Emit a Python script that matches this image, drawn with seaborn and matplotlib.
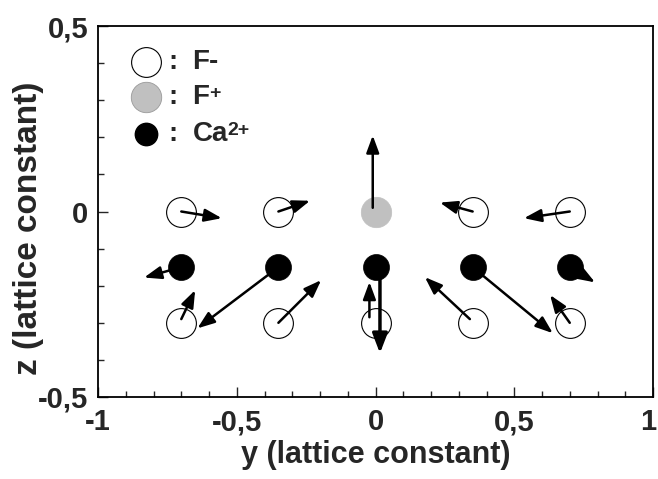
import matplotlib
matplotlib.use("Agg")
import matplotlib.pyplot as plt
import matplotlib.transforms as mtransforms
import seaborn as sns
import pandas as pd
from matplotlib.ticker import FixedLocator, MultipleLocator, FuncFormatter

# ---------------- data ----------------
f_minus_y = [-0.7, -0.35, 0.35, 0.7, -0.7, -0.35, 0.0, 0.35, 0.7]
f_minus_z = [0.0, 0.0, 0.0, 0.0, -0.3, -0.3, -0.3, -0.3, -0.3]
f_plus_y = [0.0]
f_plus_z = [0.0]
ca_y = [-0.7, -0.35, 0.0, 0.35, 0.7]
ca_z = [-0.15, -0.15, -0.15, -0.15, -0.15]

# displacement arrows (start -> end), in lattice constants
arr_y0 = [-0.70, -0.35, -0.01, 0.35, 0.70, -0.70, -0.35, 0.016, 0.35, 0.70, -0.70, -0.35, -0.022, 0.34, 0.70]
arr_z0 = [0.00, 0.00, 0.01, 0.00, 0.00, -0.15, -0.15, -0.15, -0.15, -0.15, -0.29, -0.30, -0.285, -0.29, -0.30]
arr_y1 = [-0.554, -0.236, -0.01, 0.232, 0.535, -0.834, -0.642, 0.016, 0.639, 0.791, -0.650, -0.196, -0.022, 0.178, 0.629]
arr_z1 = [-0.018, 0.029, 0.205, 0.024, -0.018, -0.178, -0.315, -0.382, -0.328, -0.191, -0.212, -0.185, -0.19, -0.177, -0.225]
arr_thick = [False] * 7 + [True] + [False] * 7

x_ticks = [-1, -0.5, 0, 0.5, 1]
y_ticks = [-0.5, 0, 0.5]

legend_labels = ["F-", "F", "Ca"]
legend_sups = ["", "+", "2+"]
legend_z = [0.404, 0.309, 0.209]

# ---------------- style ----------------
sns.set_style("ticks")
plt.rcParams["font.family"] = ["Liberation Sans", "DejaVu Sans"]
plt.rcParams["font.weight"] = "bold"

fig = plt.figure(figsize=(6.58, 4.79), dpi=100)
ax = fig.add_axes([0.149, 0.1712, 0.8434, 0.7745])

df_fm = pd.DataFrame({"y": f_minus_y, "z": f_minus_z})
df_fp = pd.DataFrame({"y": f_plus_y, "z": f_plus_z})
df_ca = pd.DataFrame({"y": ca_y, "z": ca_z})

sns.scatterplot(data=df_fm, x="y", y="z", ax=ax, s=460, facecolor="white",
                edgecolor="black", linewidth=0.8, zorder=2, legend=False)
sns.scatterplot(data=df_fp, x="y", y="z", ax=ax, s=480, color="#c0c0c0",
                edgecolor="#c0c0c0", linewidth=0.5, zorder=2, legend=False)

for y0, z0, y1, z1, thick in zip(arr_y0, arr_z0, arr_y1, arr_z1, arr_thick):
    if thick:
        props = dict(arrowstyle="-|>,head_length=0.65,head_width=0.25",
                     lw=2.5, color="black", mutation_scale=18,
                     shrinkA=0, shrinkB=0)
    else:
        props = dict(arrowstyle="-|>,head_length=0.65,head_width=0.24",
                     lw=1.8, color="black", mutation_scale=16,
                     shrinkA=0, shrinkB=0)
    ax.annotate("", xy=(y1, z1), xytext=(y0, z0), xycoords="data",
                arrowprops=props, zorder=3)

sns.scatterplot(data=df_ca, x="y", y="z", ax=ax, s=350, color="black",
                edgecolor="black", linewidth=0.5, zorder=4, legend=False)

# legend drawn inside the axes
leg_x = [-0.828, -0.828, -0.828]
ax.scatter([leg_x[0]], [legend_z[0]], s=460, facecolor="white",
           edgecolor="black", linewidth=0.8, zorder=2, clip_on=False)
ax.scatter([leg_x[1]], [legend_z[1]], s=480, color="#c0c0c0",
           edgecolor="#999999", linewidth=0.6, zorder=2, clip_on=False)
ax.scatter([leg_x[2]], [legend_z[2]], s=260, color="black", zorder=2,
           clip_on=False)
for lab, sup, zz in zip(legend_labels, legend_sups, legend_z):
    ax.text(-0.748, zz, ":", fontsize=20, fontweight="bold", ha="left",
            va="center")
    t = ax.text(-0.66, zz, lab, fontsize=20, fontweight="bold", ha="left",
                va="center")
    if sup:
        ax.annotate(sup, xy=(1.0, 0.32), xycoords=t, fontsize=14,
                    fontweight="bold", ha="left", va="bottom")

# axes
ax.set_xlim(-1, 1)
ax.set_ylim(-0.5, 0.5)
ax.xaxis.set_major_locator(FixedLocator(x_ticks))
ax.yaxis.set_major_locator(FixedLocator(y_ticks))
ax.xaxis.set_minor_locator(MultipleLocator(0.1))
ax.yaxis.set_minor_locator(MultipleLocator(0.1))


def comma(v, pos):
    s = f"{v:g}"
    if s == "-0":
        s = "0"
    return s.replace(".", ",")


ax.xaxis.set_major_formatter(FuncFormatter(comma))
ax.yaxis.set_major_formatter(FuncFormatter(comma))
ax.tick_params(which="major", direction="in", length=7, width=1.0,
               labelsize=21, top=False, right=False)
ax.tick_params(which="minor", direction="in", length=4, width=1.0,
               top=False, right=False)
ax.tick_params(axis="x", which="major", pad=8)
ax.tick_params(axis="y", which="major", pad=7)
for lab in ax.get_xticklabels() + ax.get_yticklabels():
    lab.set_fontweight("bold")
# keep the last x tick label fully inside the canvas
last = ax.get_xticklabels()[-1]
last.set_transform(last.get_transform() +
                   mtransforms.ScaledTranslation(-5 / 100, 0, fig.dpi_scale_trans))
for sp in ax.spines.values():
    sp.set_visible(True)
    sp.set_linewidth(1.3)
    sp.set_color("black")

ax.set_xlabel("y (lattice constant)", fontsize=22, fontweight="bold",
              labelpad=3)
ax.set_ylabel("z (lattice constant)", fontsize=24, fontweight="bold")
ax.yaxis.set_label_coords(-0.098, 0.455)

fig.savefig("out.png", dpi=100)
